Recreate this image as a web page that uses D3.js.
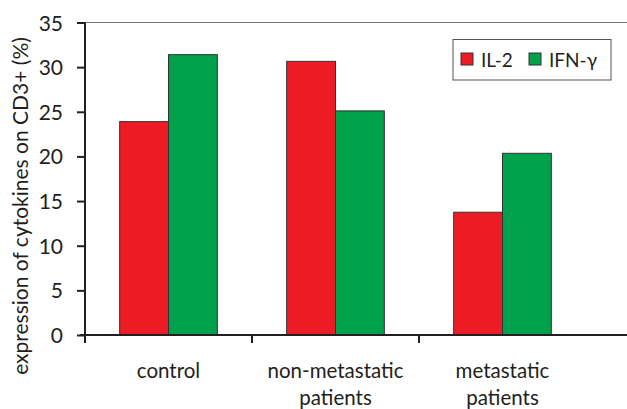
<!DOCTYPE html>
<html><head><meta charset="utf-8">
<script src="https://cdn.jsdelivr.net/npm/d3@7"></script>
<style>body{margin:0;background:#fff}svg{display:block}text{font-family:Lato,sans-serif;fill:#231f20}</style>
</head><body><div id="c"></div>
<script>
const categories = [["control"], ["non-metastatic","patients"], ["metastatic","patients"]];
const seriesNames = ["IL-2", "IFN-\u03b3"];
const il2 = [23.9, 30.65, 13.75];
const ifng = [31.4, 25.1, 20.35];
const yTicks = [0,5,10,15,20,25,30,35];
const colors = ["#ED1C24", "#00A14B"];

const W=627,H=409;
const svg=d3.select("#c").append("svg").attr("width",W).attr("height",H);
const x0=85, plotTop=22.5, plotBottom=335;
const x=d3.scaleBand().domain(d3.range(categories.length)).range([x0,x0+167*3]).paddingInner(0).paddingOuter(0);
const xs=d3.scaleBand().domain([0,1]).range([0,x.bandwidth()]).paddingInner(0).paddingOuter(0.71);
const y=d3.scaleLinear().domain([0,35]).range([plotBottom,plotTop]);

svg.append("line").attr("x1",x0).attr("x2",W).attr("y1",plotTop).attr("y2",plotTop).attr("stroke","#777").attr("stroke-width",1);

const series=[il2,ifng];
series.forEach((vals,si)=>{
  svg.append("g").selectAll("rect").data(vals).join("rect")
    .attr("x",(d,i)=>x(i)+xs(si))
    .attr("y",d=>y(d))
    .attr("width",xs.bandwidth())
    .attr("height",d=>plotBottom-y(d))
    .attr("fill",colors[si]).attr("stroke","#333").attr("stroke-width",1);
});

const ya=svg.append("g").attr("transform",`translate(${x0},0)`)
  .call(d3.axisLeft(y).tickValues(yTicks).tickSize(8).tickPadding(14));
ya.select(".domain").remove();
ya.selectAll(".tick line").attr("stroke","#231f20").attr("stroke-width",2);
ya.selectAll(".tick text").style("font-size","21px").attr("fill","#231f20").attr("font-family","Lato").attr("dy","0.36em");
svg.append("line").attr("x1",x0).attr("x2",x0).attr("y1",plotTop).attr("y2",plotBottom+8).attr("stroke","#231f20").attr("stroke-width",2);

svg.append("line").attr("x1",80).attr("x2",W).attr("y1",plotBottom).attr("y2",plotBottom).attr("stroke","#231f20").attr("stroke-width",2);
svg.append("g").selectAll("line").data(d3.range(1,categories.length)).join("line")
  .attr("x1",i=>x(i)).attr("x2",i=>x(i)).attr("y1",plotBottom).attr("y2",plotBottom+8)
  .attr("stroke","#231f20").attr("stroke-width",2);
const cl=svg.append("g").selectAll("text").data(categories).join("text")
  .attr("x",(d,i)=>x(i)+x.bandwidth()/2).attr("y",378)
  .attr("text-anchor","middle").style("font-size","20.5px");
cl.each(function(d){
  const t=d3.select(this);
  d.forEach((s,j)=>t.append("tspan").attr("x",t.attr("x")).attr("dy",j?27:0).text(s));
});

svg.append("text").attr("transform","translate(28,206) rotate(-90)").attr("text-anchor","middle")
  .style("font-size","21px").text("expression of cytokines on CD3+ (%)");

const lg=svg.append("g");
lg.append("rect").attr("x",453).attr("y",39.5).attr("width",158).attr("height",40.5).attr("fill","#fff").attr("stroke","#555").attr("stroke-width",1);
const lx=[461,529];
seriesNames.forEach((n,i)=>{
  lg.append("rect").attr("x",lx[i]).attr("y",53).attr("width",12).attr("height",12).attr("fill",colors[i]).attr("stroke","#333").attr("stroke-width",1);
  lg.append("text").attr("x",lx[i]+20).attr("y",66.5).style("font-size","19px").text(n);
});
</script></body></html>
